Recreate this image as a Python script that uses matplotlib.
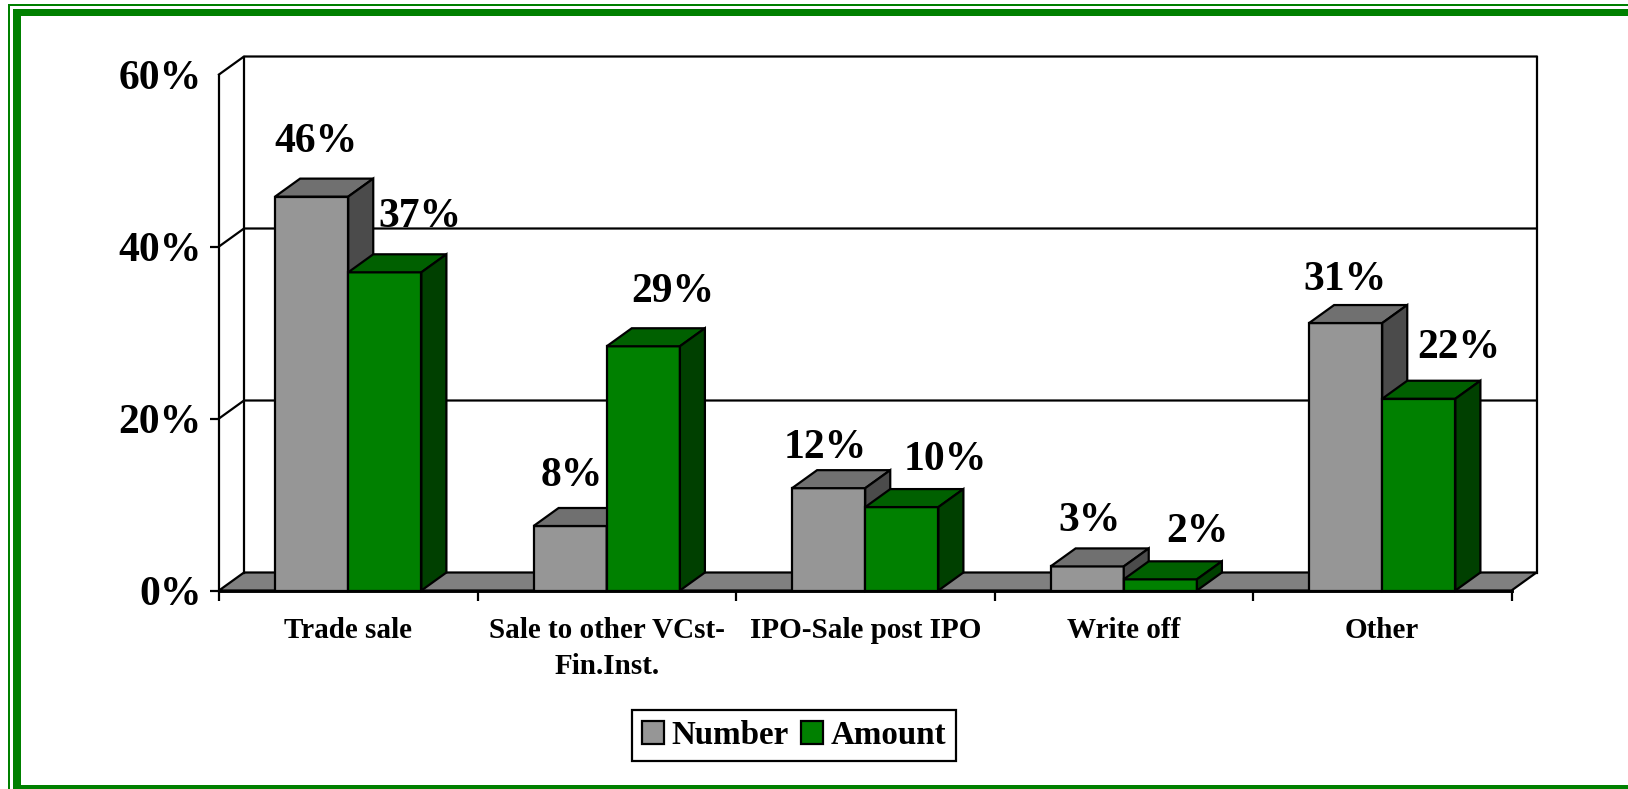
#!/usr/bin/env python3
import matplotlib
matplotlib.use("Agg")
import matplotlib.pyplot as plt
from matplotlib.patches import Patch, Polygon, Rectangle

categories = ["Trade sale", "Sale to other VCst-\nFin.Inst.", "IPO-Sale post IPO",
              "Write off", "Other"]
number = [45.8, 7.5, 11.9, 2.8, 31.1]
amount = [37.0, 28.4, 9.7, 1.3, 22.3]
number_labels = ["46%", "8%", "12%", "3%", "31%"]
amount_labels = ["37%", "29%", "10%", "2%", "22%"]
y_ticks = [0, 20, 40, 60]
y_tick_labels = ["0%", "20%", "40%", "60%"]

# label nudges from the bar's front centre, in pixels
number_nudge = [(4, 55), (2, 50), (-3, 40), (2, 45), (-1, 43)]
amount_nudge = [(35, 55), (29, 54), (43, 47), (37, 47), (40, 51)]

W, H = 1628, 789
LEFT, RIGHT, BASE, TOP = 219, 1511.5, 590.5, 74.5
FONT = ["Liberation Serif", "DejaVu Serif"]
LW = 1.6

plt.rcParams["font.family"] = FONT
plt.rcParams["font.weight"] = "bold"

fig = plt.figure(figsize=(W / 100, H / 100), dpi=100, facecolor="white")
ax = fig.add_axes([LEFT / W, 1 - BASE / H, (RIGHT - LEFT) / W, (BASE - TOP) / H])
ax.set_xlim(0, len(categories))
ax.set_ylim(0, 60)
ax.patch.set_visible(False)
for s in ax.spines.values():
    s.set_visible(False)

# depth of the fake 3d box, in data units
dx = 25 / ((RIGHT - LEFT) / len(categories))
dy = 18 / ((BASE - TOP) / 60)
bar_w = 0.283
n = len(categories)

# floor and walls
ax.add_patch(Polygon([(0, 0), (n, 0), (n + dx, dy), (dx, dy)], closed=True,
                     facecolor="#808080", edgecolor="black", lw=LW, zorder=1,
                     clip_on=False))
for v in y_ticks[1:]:
    ax.plot([0, dx, n + dx], [v, v + dy, v + dy], color="black", lw=LW, zorder=1,
            clip_on=False)
ax.plot([0, 0], [0, 60], color="black", lw=LW, zorder=1, clip_on=False)
ax.plot([dx, dx], [dy, 60 + dy], color="black", lw=LW, zorder=1, clip_on=False)
ax.plot([n + dx, n + dx], [dy, 60 + dy], color="black", lw=LW, zorder=1, clip_on=False)


def draw_bar(x, v, front, top, side, z):
    ax.bar(x, v, bar_w, align="edge", color=front, edgecolor="black", lw=LW,
           zorder=z, clip_on=False)
    ax.add_patch(Polygon([(x, v), (x + bar_w, v), (x + bar_w + dx, v + dy), (x + dx, v + dy)],
                         closed=True, facecolor=top, edgecolor="black", lw=LW, zorder=z,
                         clip_on=False))
    ax.add_patch(Polygon([(x + bar_w, 0), (x + bar_w + dx, dy), (x + bar_w + dx, v + dy),
                          (x + bar_w, v)],
                         closed=True, facecolor=side, edgecolor="black", lw=LW, zorder=z,
                         clip_on=False))


for i in range(n):
    c = i + 0.5
    draw_bar(c - bar_w, number[i], "#969696", "#707070", "#4b4b4b", 2)
    draw_bar(c, amount[i], "#008000", "#006000", "#004000", 3)
    ax.annotate(number_labels[i], (c - bar_w / 2, number[i]),
                xytext=(number_nudge[i][0] * 0.72, number_nudge[i][1] * 0.72),
                textcoords="offset points", ha="center", va="center", fontsize=30,
                zorder=5, annotation_clip=False)
    ax.annotate(amount_labels[i], (c + bar_w / 2, amount[i]),
                xytext=(amount_nudge[i][0] * 0.72, amount_nudge[i][1] * 0.72),
                textcoords="offset points", ha="center", va="center", fontsize=30,
                zorder=5, annotation_clip=False)

# baseline on top of the bars
ax.plot([0, n], [0, 0], color="black", lw=LW * 1.3, zorder=4, clip_on=False)

ax.set_yticks(y_ticks)
ax.set_yticklabels(y_tick_labels, fontsize=30)
ax.tick_params(axis="y", length=6.5, width=LW, pad=6)
ax.yaxis.get_major_ticks()[-1].tick1line.set_visible(False)

ax.set_xticks(range(n + 1))
ax.set_xticklabels([])
ax.tick_params(axis="x", which="major", length=7, width=LW)
ax.set_xticks([i + 0.5 for i in range(n)], minor=True)
ax.set_xticklabels(categories, minor=True, fontsize=21, linespacing=1.43)
ax.tick_params(axis="x", which="minor", length=0, pad=19)

handles = [Patch(facecolor="#969696", edgecolor="black", lw=LW, label="Number"),
           Patch(facecolor="#008000", edgecolor="black", lw=LW, label="Amount")]
fig.legend(handles=handles, loc="center", bbox_to_anchor=(794 / W, 1 - 735.5 / H), ncol=2,
           fontsize=23.8, fancybox=False, framealpha=1, edgecolor="black",
           handlelength=0.66, handleheight=0.66, handletextpad=0.22, columnspacing=0.4,
           borderpad=0.3, borderaxespad=0)
fig.legends[0].get_frame().set_linewidth(LW)

# green page frame, open on the right
green = "#008000"
for x0, y0, w, h in [(8.3, 4, W - 8.3, 1.8), (8.3, 4, 1.8, H - 4),
                     (13, 8.7, W - 13, 7.3), (13, 8.7, 8, H - 8.7),
                     (13, 785, W - 13, 4)]:
    fig.add_artist(Rectangle((x0 / W, 1 - (y0 + h) / H), w / W, h / H, transform=fig.transFigure,
                             facecolor=green, edgecolor="none"))

fig.savefig("out.png", dpi=100)
